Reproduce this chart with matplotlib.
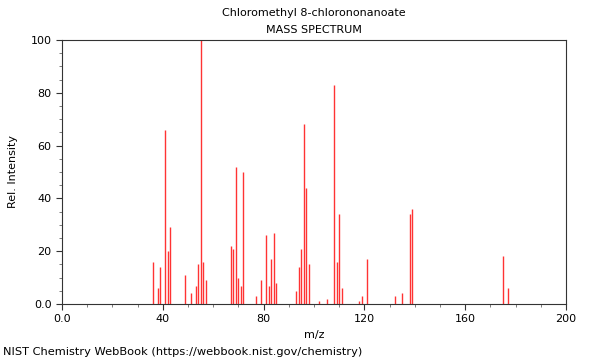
import numpy as np
import matplotlib
matplotlib.use('Agg')
import matplotlib.pyplot as plt
from matplotlib.ticker import MultipleLocator

# peaks
mz = [36, 38, 39, 41, 42, 43, 49, 51, 53, 54, 55, 56, 57,
      67, 68, 69, 70, 71, 72, 77, 79, 81, 82, 83, 84, 85,
      93, 94, 95, 96, 97, 98, 102, 105, 108, 109, 110, 111,
      118, 119, 121, 132, 135, 138, 139, 175, 177]
intensity = [16, 6, 14, 66, 20, 29, 11, 4, 7, 15, 100, 16, 9,
             22, 21, 52, 10, 7, 50, 3, 9, 26, 7, 17, 27, 8,
             5, 14, 21, 68, 44, 15, 1, 2, 83, 16, 34, 6,
             1, 3, 17, 3, 4, 34, 36, 18, 6]

name = "Chloromethyl 8-chlorononanoate"
subtitle = "MASS SPECTRUM"
footer = "NIST Chemistry WebBook (https://webbook.nist.gov/chemistry)"

fig = plt.figure(figsize=(6, 3.6), dpi=100)
ax = fig.add_axes([62/600, 56/360, 504/600, 264/360])

ax.vlines(mz, 0, intensity, colors='#ff3333', linewidth=1)

ax.set_xlim(0, 200)
ax.set_ylim(0, 100)
ax.xaxis.set_minor_locator(MultipleLocator(10))
ax.yaxis.set_minor_locator(MultipleLocator(5))
ax.set_xticks([0, 40, 80, 120, 160, 200], ['0.0', '40', '80', '120', '160', '200'])
ax.set_yticks([0, 20, 40, 60, 80, 100], ['0.0', '20', '40', '60', '80', '100'])
ax.tick_params(which='major', length=4, width=0.8, labelsize=8, color='#333333')
ax.tick_params(which='minor', length=2.5, width=0.6, color='#666666')
for s in ax.spines.values():
    s.set_color('#333333')
    s.set_linewidth(0.8)

ax.set_xlabel('m/z', fontsize=8)
ax.set_ylabel('Rel. Intensity', fontsize=8, labelpad=9)
fig.text(314/600, 1 - 13/360, name, ha='center', va='center', fontsize=8)
fig.text(314/600, 1 - 30/360, subtitle, ha='center', va='center', fontsize=8)
fig.text(3/600, 1 - 352/360, footer, ha='left', va='center', fontsize=8.2)

fig.savefig('out.png', dpi=100)
